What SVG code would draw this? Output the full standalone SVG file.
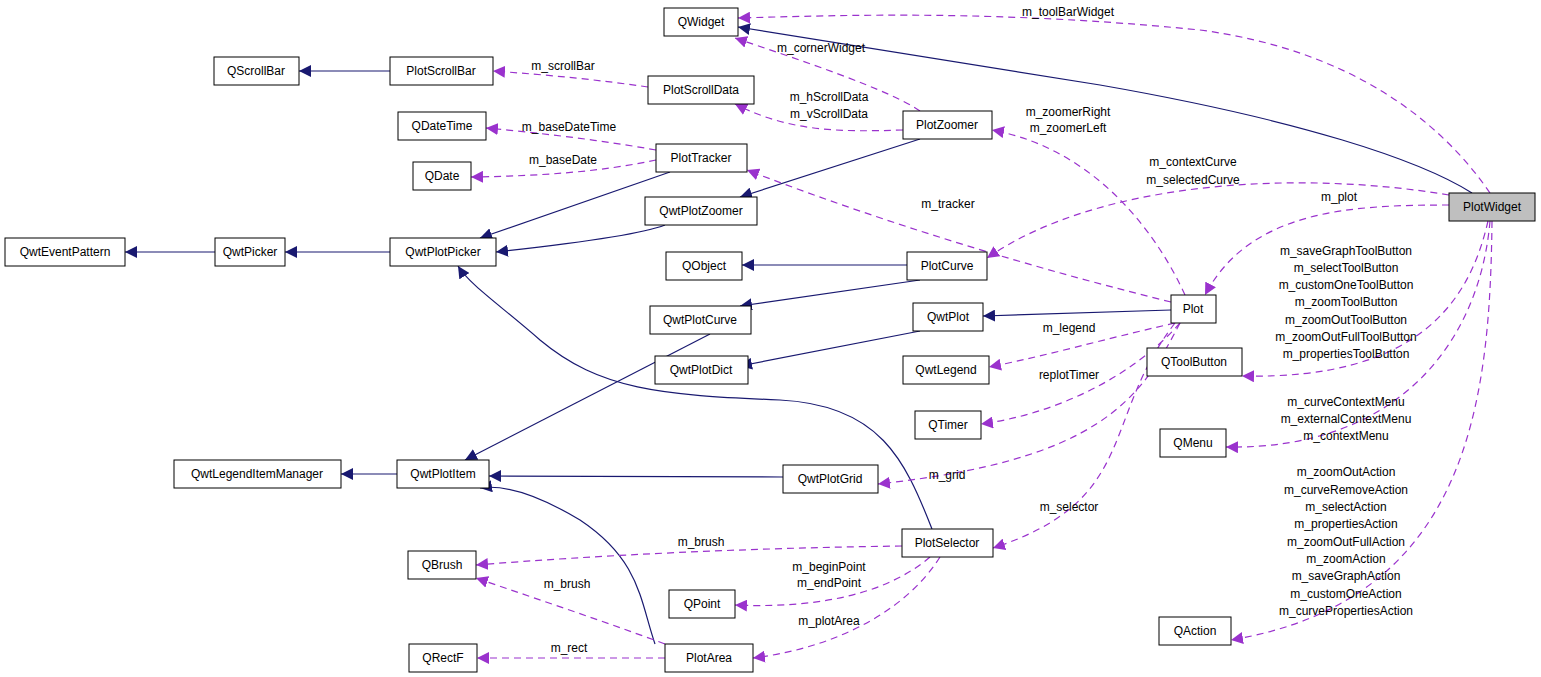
<svg xmlns="http://www.w3.org/2000/svg" width="1541" height="677" viewBox="0 0 1541 677">
<style>
text{font-family:"Liberation Sans",Arial,sans-serif;font-size:12px;fill:#000}
.n rect{fill:#fff;stroke:#000;stroke-width:1}
.n text{text-anchor:middle}
.l{text-anchor:middle}
.i{fill:none;stroke:#191970;stroke-width:1.2}
.m{fill:none;stroke:#9a32cd;stroke-width:1.2;stroke-dasharray:7,5}
</style>
<defs>
<marker id="ai" viewBox="0 0 10 10" refX="10" refY="5" markerWidth="12" markerHeight="12" markerUnits="userSpaceOnUse" orient="auto"><path d="M0,0L10,5L0,10z" fill="#191970"/></marker>
<marker id="am" viewBox="0 0 10 10" refX="10" refY="5" markerWidth="12" markerHeight="12" markerUnits="userSpaceOnUse" orient="auto"><path d="M0,0L10,5L0,10z" fill="#9a32cd"/></marker>
</defs>
<rect width="1541" height="677" fill="#fff"/>
<g id="edges">
<path class="i" marker-end="url(#ai)" d="M390,71L299,71"/>
<path class="i" marker-end="url(#ai)" d="M1472,193C1420,160 1300,120 1100,85C950,60 800,38 738,27"/>
<path class="i" marker-end="url(#ai)" d="M215,252L125,252"/>
<path class="i" marker-end="url(#ai)" d="M390,252L285,252"/>
<path class="i" marker-end="url(#ai)" d="M670,172L480,238"/>
<path class="i" marker-end="url(#ai)" d="M665,225C640,235 560,245 496,252"/>
<path class="i" marker-end="url(#ai)" d="M920,139L740,197"/>
<path class="i" marker-end="url(#ai)" d="M907,265L742,265"/>
<path class="i" marker-end="url(#ai)" d="M920,280L740,306"/>
<path class="i" marker-end="url(#ai)" d="M1171,310L983,316"/>
<path class="i" marker-end="url(#ai)" d="M920,331L740,366"/>
<path class="i" marker-end="url(#ai)" d="M710,334L465,460"/>
<path class="i" marker-end="url(#ai)" d="M397,474L341,474"/>
<path class="i" marker-end="url(#ai)" d="M783,477L489,476"/>
<path class="i" marker-end="url(#ai)" d="M932,529C905,460 880,405 780,400C660,395 600,390 540,340C500,305 470,285 458,266"/>
<path class="i" marker-end="url(#ai)" d="M655,644C640,600 640,560 580,520C530,490 500,485 480,488"/>
<path class="m" marker-end="url(#am)" d="M1490,193C1440,120 1350,50 1200,30C1000,10 850,15 738,18"/>
<path class="m" marker-end="url(#am)" d="M920,111C890,90 800,60 735,38"/>
<path class="m" marker-end="url(#am)" d="M648,87C600,80 550,75 493,71"/>
<path class="m" marker-end="url(#am)" d="M903,130C840,132 790,132 735,104"/>
<path class="m" marker-end="url(#am)" d="M656,150C600,140 540,133 486,128"/>
<path class="m" marker-end="url(#am)" d="M656,160C600,172 540,176 471,177"/>
<path class="m" marker-end="url(#am)" d="M1185,295C1160,240 1100,150 992,130"/>
<path class="m" marker-end="url(#am)" d="M1449,195C1300,170 1100,180 987,258"/>
<path class="m" marker-end="url(#am)" d="M1449,205C1350,205 1250,210 1205,295"/>
<path class="m" marker-end="url(#am)" d="M1171,302C1000,260 850,210 747,170"/>
<path class="m" marker-end="url(#am)" d="M1488,221C1470,300 1420,380 1242,376"/>
<path class="m" marker-end="url(#am)" d="M1175,323C1100,340 1050,355 989,367"/>
<path class="m" marker-end="url(#am)" d="M1180,323C1130,380 1050,415 981,424"/>
<path class="m" marker-end="url(#am)" d="M1490,221C1480,340 1400,450 1226,447"/>
<path class="m" marker-end="url(#am)" d="M1180,323C1140,400 1100,460 878,484"/>
<path class="m" marker-end="url(#am)" d="M1175,323C1100,420 1140,500 993,548"/>
<path class="m" marker-end="url(#am)" d="M1492,221C1490,400 1470,600 1231,640"/>
<path class="m" marker-end="url(#am)" d="M902,546C750,548 600,555 476,565"/>
<path class="m" marker-end="url(#am)" d="M930,557C880,600 800,608 735,605"/>
<path class="m" marker-end="url(#am)" d="M940,557C900,620 820,650 753,658"/>
<path class="m" marker-end="url(#am)" d="M665,644C600,620 540,600 476,578"/>
<path class="m" marker-end="url(#am)" d="M665,658L477,658"/>
<text class="l" x="1068" y="16">m_toolBarWidget</text>
<text class="l" x="821" y="52">m_cornerWidget</text>
<text class="l" x="563" y="70">m_scrollBar</text>
<text class="l" x="829" y="101">m_hScrollData</text>
<text class="l" x="829" y="118">m_vScrollData</text>
<text class="l" x="569" y="131">m_baseDateTime</text>
<text class="l" x="563" y="164">m_baseDate</text>
<text class="l" x="1068" y="116">m_zoomerRight</text>
<text class="l" x="1068" y="132">m_zoomerLeft</text>
<text class="l" x="1193" y="166">m_contextCurve</text>
<text class="l" x="1193" y="184">m_selectedCurve</text>
<text class="l" x="1339" y="201">m_plot</text>
<text class="l" x="948" y="208">m_tracker</text>
<text class="l" x="1346" y="255">m_saveGraphToolButton</text>
<text class="l" x="1346" y="272">m_selectToolButton</text>
<text class="l" x="1346" y="289">m_customOneToolButton</text>
<text class="l" x="1346" y="306">m_zoomToolButton</text>
<text class="l" x="1346" y="324">m_zoomOutToolButton</text>
<text class="l" x="1346" y="341">m_zoomOutFullToolButton</text>
<text class="l" x="1346" y="358">m_propertiesToolButton</text>
<text class="l" x="1069" y="332">m_legend</text>
<text class="l" x="1069" y="379">replotTimer</text>
<text class="l" x="1346" y="406">m_curveContextMenu</text>
<text class="l" x="1346" y="423">m_externalContextMenu</text>
<text class="l" x="1346" y="440">m_contextMenu</text>
<text class="l" x="947" y="479">m_grid</text>
<text class="l" x="1069" y="511">m_selector</text>
<text class="l" x="1346" y="476">m_zoomOutAction</text>
<text class="l" x="1346" y="494">m_curveRemoveAction</text>
<text class="l" x="1346" y="511">m_selectAction</text>
<text class="l" x="1346" y="528">m_propertiesAction</text>
<text class="l" x="1346" y="546">m_zoomOutFullAction</text>
<text class="l" x="1346" y="563">m_zoomAction</text>
<text class="l" x="1346" y="580">m_saveGraphAction</text>
<text class="l" x="1346" y="598">m_customOneAction</text>
<text class="l" x="1346" y="615">m_curvePropertiesAction</text>
<text class="l" x="701" y="546">m_brush</text>
<text class="l" x="829" y="571">m_beginPoint</text>
<text class="l" x="829" y="587">m_endPoint</text>
<text class="l" x="829" y="625">m_plotArea</text>
<text class="l" x="567" y="588">m_brush</text>
<text class="l" x="569" y="652">m_rect</text>
</g>
<g id="QWidget" class="n"><rect x="664" y="8" width="74" height="28"/><text x="701" y="26">QWidget</text></g>
<g id="QScrollBar" class="n"><rect x="214" y="57" width="85" height="28"/><text x="256" y="75">QScrollBar</text></g>
<g id="PlotScrollBar" class="n"><rect x="390" y="57" width="103" height="28"/><text x="441" y="75">PlotScrollBar</text></g>
<g id="PlotScrollData" class="n"><rect x="648" y="76" width="106" height="28"/><text x="701" y="94">PlotScrollData</text></g>
<g id="QDateTime" class="n"><rect x="398" y="112" width="88" height="28"/><text x="442" y="130">QDateTime</text></g>
<g id="PlotZoomer" class="n"><rect x="903" y="111" width="89" height="28"/><text x="947" y="129">PlotZoomer</text></g>
<g id="QDate" class="n"><rect x="413" y="162" width="58" height="28"/><text x="442" y="180">QDate</text></g>
<g id="PlotTracker" class="n"><rect x="656" y="144" width="91" height="28"/><text x="701" y="162">PlotTracker</text></g>
<g id="QwtPlotZoomer" class="n"><rect x="645" y="197" width="112" height="28"/><text x="701" y="215">QwtPlotZoomer</text></g>
<g id="PlotWidget" class="n"><rect x="1449" y="193" width="86" height="28" style="fill:#bfbfbf"/><text x="1492" y="211">PlotWidget</text></g>
<g id="QwtEventPattern" class="n"><rect x="5" y="238" width="120" height="28"/><text x="65" y="256">QwtEventPattern</text></g>
<g id="QwtPicker" class="n"><rect x="215" y="238" width="70" height="28"/><text x="250" y="256">QwtPicker</text></g>
<g id="QwtPlotPicker" class="n"><rect x="390" y="238" width="106" height="28"/><text x="443" y="256">QwtPlotPicker</text></g>
<g id="QObject" class="n"><rect x="666" y="252" width="76" height="28"/><text x="704" y="270">QObject</text></g>
<g id="PlotCurve" class="n"><rect x="907" y="252" width="80" height="28"/><text x="947" y="270">PlotCurve</text></g>
<g id="Plot" class="n"><rect x="1171" y="295" width="45" height="28"/><text x="1193" y="313">Plot</text></g>
<g id="QwtPlotCurve" class="n"><rect x="650" y="306" width="101" height="28"/><text x="700" y="324">QwtPlotCurve</text></g>
<g id="QwtPlot" class="n"><rect x="913" y="303" width="70" height="28"/><text x="948" y="321">QwtPlot</text></g>
<g id="QwtPlotDict" class="n"><rect x="655" y="356" width="93" height="28"/><text x="701" y="374">QwtPlotDict</text></g>
<g id="QwtLegend" class="n"><rect x="903" y="356" width="86" height="28"/><text x="946" y="374">QwtLegend</text></g>
<g id="QToolButton" class="n"><rect x="1147" y="348" width="95" height="28"/><text x="1194" y="366">QToolButton</text></g>
<g id="QTimer" class="n"><rect x="915" y="411" width="66" height="28"/><text x="948" y="429">QTimer</text></g>
<g id="QMenu" class="n"><rect x="1160" y="429" width="66" height="28"/><text x="1193" y="447">QMenu</text></g>
<g id="QwtLegendItemManager" class="n"><rect x="174" y="460" width="167" height="28"/><text x="257" y="478">QwtLegendItemManager</text></g>
<g id="QwtPlotItem" class="n"><rect x="397" y="460" width="92" height="28"/><text x="443" y="478">QwtPlotItem</text></g>
<g id="QwtPlotGrid" class="n"><rect x="783" y="465" width="95" height="28"/><text x="830" y="483">QwtPlotGrid</text></g>
<g id="PlotSelector" class="n"><rect x="902" y="529" width="91" height="28"/><text x="947" y="547">PlotSelector</text></g>
<g id="QBrush" class="n"><rect x="408" y="551" width="68" height="28"/><text x="442" y="569">QBrush</text></g>
<g id="QPoint" class="n"><rect x="669" y="590" width="66" height="28"/><text x="702" y="608">QPoint</text></g>
<g id="QAction" class="n"><rect x="1159" y="617" width="72" height="28"/><text x="1195" y="635">QAction</text></g>
<g id="QRectF" class="n"><rect x="409" y="644" width="68" height="28"/><text x="443" y="662">QRectF</text></g>
<g id="PlotArea" class="n"><rect x="665" y="644" width="88" height="28"/><text x="709" y="662">PlotArea</text></g>
</svg>
